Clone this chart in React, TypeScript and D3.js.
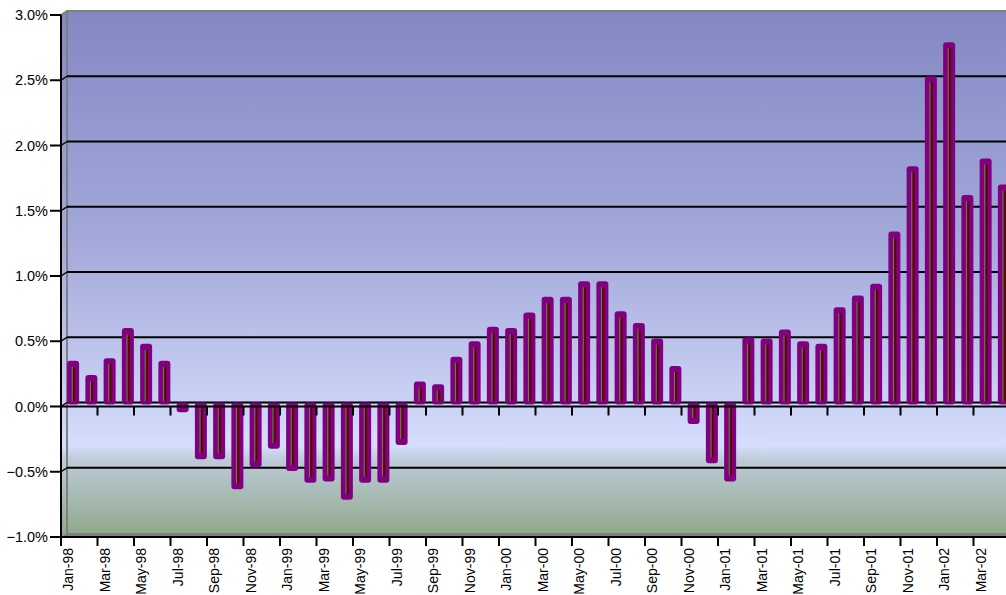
import React from "react";
import * as d3 from "d3";

// Monthly change series, Jan-98 through Apr-02 (percent)
const months: string[] = [
  "Jan-98", "Feb-98", "Mar-98", "Apr-98", "May-98", "Jun-98", "Jul-98", "Aug-98", "Sep-98", "Oct-98", "Nov-98", "Dec-98",
  "Jan-99", "Feb-99", "Mar-99", "Apr-99", "May-99", "Jun-99", "Jul-99", "Aug-99", "Sep-99", "Oct-99", "Nov-99", "Dec-99",
  "Jan-00", "Feb-00", "Mar-00", "Apr-00", "May-00", "Jun-00", "Jul-00", "Aug-00", "Sep-00", "Oct-00", "Nov-00", "Dec-00",
  "Jan-01", "Feb-01", "Mar-01", "Apr-01", "May-01", "Jun-01", "Jul-01", "Aug-01", "Sep-01", "Oct-01", "Nov-01", "Dec-01",
  "Jan-02", "Feb-02", "Mar-02", "Apr-02",
];

const values: number[] = [
  0.32, 0.21, 0.34, 0.57, 0.45, 0.32, -0.06, -0.42, -0.42, -0.65, -0.48, -0.34,
  -0.51, -0.6, -0.59, -0.73, -0.6, -0.6, -0.31, 0.16, 0.14, 0.35, 0.47, 0.58,
  0.57, 0.69, 0.81, 0.81, 0.93, 0.93, 0.7, 0.61, 0.49, 0.28, -0.15, -0.45,
  -0.59, 0.5, 0.49, 0.56, 0.47, 0.45, 0.73, 0.82, 0.91, 1.31, 1.81, 2.5,
  2.76, 1.59, 1.87, 1.67,
];

const yTicks: number[] = [-1, -0.5, 0, 0.5, 1, 1.5, 2, 2.5, 3];

const W = 1006;
const H = 595;
const left = 61;
const top = 15;
const bottom = 537;
const step = 18.25;
// 3D depth offsets: back wall and bar plane
const wallDx = 6;
const wallDy = -4;
const barDx = 3;
const barDy = -3;

export default function App() {
  const x = d3
    .scaleBand<string>()
    .domain(months)
    .range([left, left + months.length * step])
    .padding(0);
  const y = d3.scaleLinear().domain([-1, 3]).range([bottom, top]);
  const fmt = d3.format(".1%");
  const right = W + 10;
  const labelMonths = months.filter((_, i) => i % 2 === 0);
  const barW = 12;

  return (
    <div style={{ position: "absolute", left: 0, top: 0 }}>
      <svg width={W} height={H} style={{ display: "block", fontFamily: "'Liberation Sans', Arial, sans-serif" }}>
        <defs>
          <linearGradient id="wall" x1="0" y1="0" x2="0" y2="1">
            <stop offset="0" stopColor="#8388c3" />
            <stop offset="0.45" stopColor="#a5aadb" />
            <stop offset="0.8" stopColor="#d2dafb" />
            <stop offset="0.825" stopColor="#d6dffe" />
            <stop offset="0.855" stopColor="#bccad8" />
            <stop offset="1" stopColor="#8fa888" />
          </linearGradient>
        </defs>
        <rect width={W} height={H} fill="#ffffff" />

        {/* walls */}
        <polygon
          points={`${left},${top} ${left + wallDx},${top + wallDy} ${right},${top + wallDy} ${right},${bottom + wallDy} ${left},${bottom}`}
          fill="url(#wall)"
        />
        {/* floor */}
        <polygon
          points={`${left},${bottom} ${left + wallDx},${bottom + wallDy} ${right},${bottom + wallDy} ${right},${bottom}`}
          fill="#808080"
        />
        {/* wall edges */}
        <line x1={left + wallDx} y1={top + wallDy} x2={left + wallDx} y2={bottom + wallDy} stroke="#808080" strokeWidth={2} />
        <line x1={left + wallDx - 1} y1={top + wallDy} x2={right} y2={top + wallDy} stroke="#808080" strokeWidth={2} />
        <line x1={left} y1={top} x2={left + wallDx} y2={top + wallDy} stroke="#808080" strokeWidth={2} />

        {/* gridlines on back and side walls */}
        {yTicks.slice(1, -1).map((t) => (
          <g key={`g${t}`}>
            <line x1={left + wallDx} y1={y(t) + wallDy} x2={right} y2={y(t) + wallDy} stroke="#000" strokeWidth={2} />
            <line x1={left} y1={y(t)} x2={left + wallDx} y2={y(t) + wallDy} stroke="#000" strokeWidth={1.5} />
          </g>
        ))}

        {/* bars */}
        {months.map((m, i) => {
          const v = values[i];
          const cx = (x(m) as number) + x.bandwidth() / 2 + barDx;
          const y0 = y(0) + barDy;
          const y1 = y(v) + barDy;
          const yTop = Math.min(y0, y1) - 1;
          const yBot = Math.max(y0, y1) + 1;
          const pos = v >= 0;
          const innerTop = pos ? yTop + 6 : yTop + 4;
          const innerBot = pos ? yBot - 3 : yBot - 6;
          return (
            <g key={m}>
              <rect x={cx - barW / 2} y={yTop} width={barW} height={yBot - yTop} rx={3} fill="#800080" />
              {innerBot > innerTop && (
                <>
                  <rect x={cx - 1.5} y={innerTop} width={3.5} height={innerBot - innerTop} fill="#5e0606" />
                  <rect x={cx - 1.5} y={innerTop} width={1.2} height={innerBot - innerTop} fill="#707070" />
                </>
              )}
            </g>
          );
        })}

        {/* front zero axis with ticks */}
        <line x1={left} y1={y(0)} x2={right} y2={y(0)} stroke="#000" strokeWidth={2} />
        {labelMonths.map((m) => (
          <line key={`zt${m}`} x1={x(m) as number} y1={y(0)} x2={x(m) as number} y2={y(0) + 9} stroke="#000" strokeWidth={2} />
        ))}

        {/* bottom axis */}
        <line x1={left} y1={bottom} x2={right} y2={bottom} stroke="#000" strokeWidth={2} />
        {labelMonths.map((m) => (
          <line key={`bt${m}`} x1={x(m) as number} y1={bottom} x2={x(m) as number} y2={bottom + 9} stroke="#000" strokeWidth={2} />
        ))}
        {labelMonths.map((m) => {
          const tx = (x(m) as number) + 7;
          const ty = bottom + 11;
          return (
            <text
              key={`bl${m}`}
              transform={`translate(${tx},${ty}) rotate(-90)`}
              textAnchor="end"
              dominantBaseline="central"
              fontSize={14}
              fill="#000"
            >
              {m}
            </text>
          );
        })}

        {/* value axis */}
        <line x1={left} y1={top} x2={left} y2={bottom + 1} stroke="#000" strokeWidth={2} />
        {yTicks.map((t) => (
          <g key={`yt${t}`}>
            <line x1={left - 11} y1={y(t)} x2={left} y2={y(t)} stroke="#000" strokeWidth={2} />
            <text x={left - 13} y={y(t)} textAnchor="end" dominantBaseline="central" fontSize={14.5} fill="#000">
              {fmt(t / 100)}
            </text>
          </g>
        ))}
      </svg>
    </div>
  );
}
